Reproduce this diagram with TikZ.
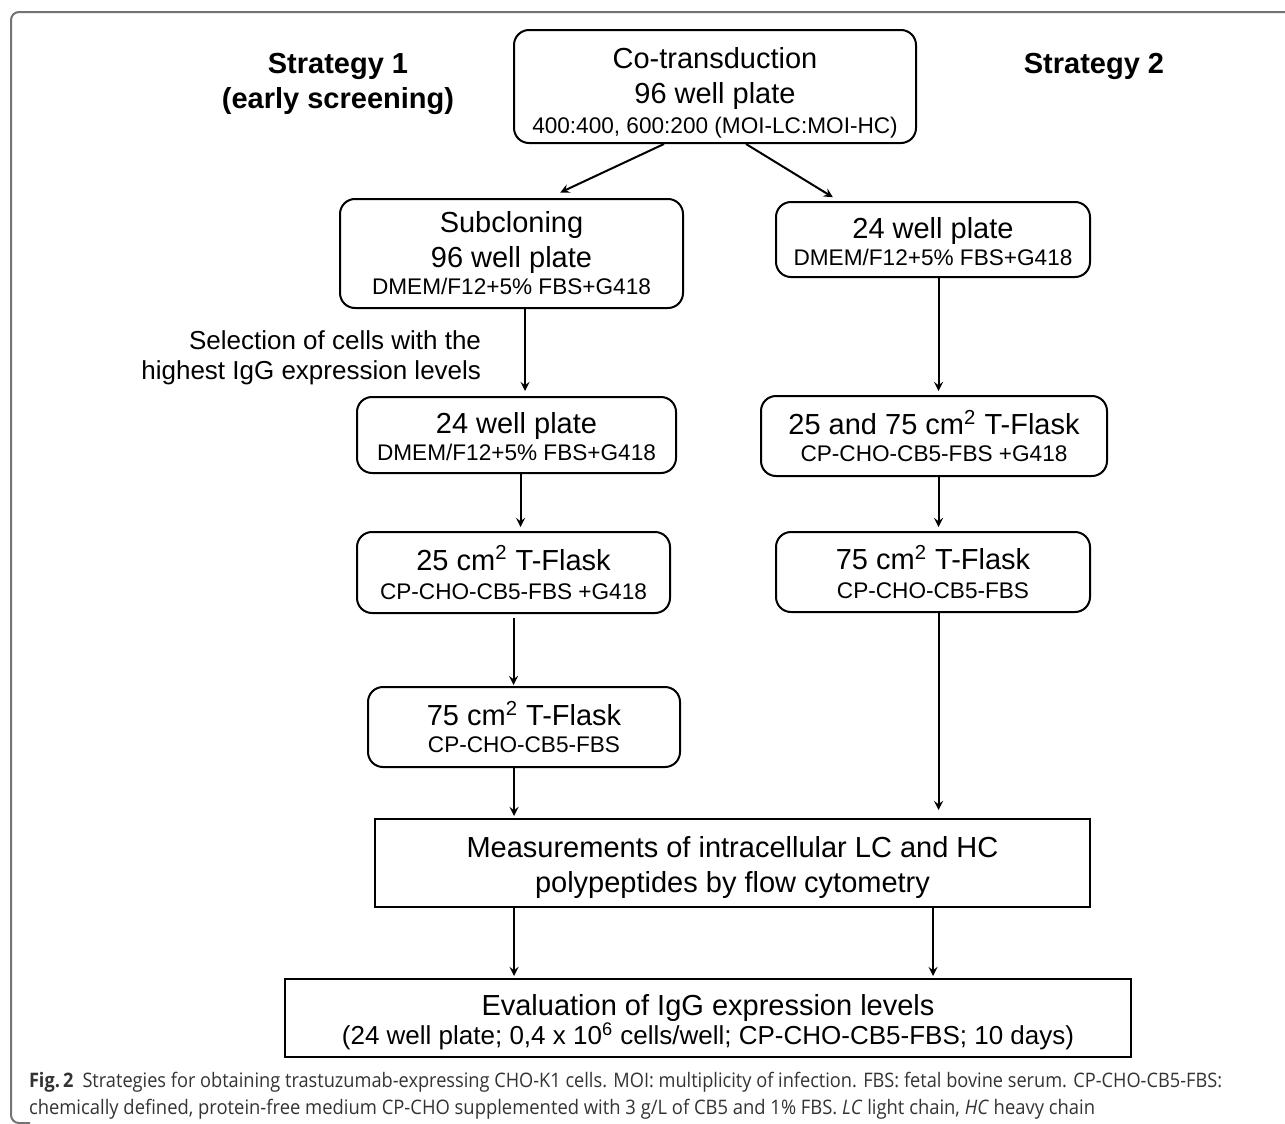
\documentclass[tikz,border=0pt]{standalone}
\usepackage{fontspec}
\setmainfont{Liberation Sans}
\newfontfamily\capfont{Open Sans}
\usepackage{tikz}
\usetikzlibrary{calc,arrows,positioning}

\newcommand{\mainsize}{\fontsize{14.5}{17.5}\selectfont}
\newcommand{\subsize}{\fontsize{11.3}{16.25}\selectfont}
\newcommand{\selsize}{\fontsize{13}{15}\selectfont}
\newcommand{\toppad}[1]{\rule{0pt}{#1}}

\begin{document}
\begin{tikzpicture}[x=0.5pt, y=-0.5pt,
       >=stealth, line width=1pt, text=black,
       every node/.style={font=\mainsize},
       link/.style={->, shorten >=#1},
       link/.default=2pt,
       roundbox/.style 2 args={draw, rounded corners=7.5pt, align=center,
                               inner sep=0pt, minimum width=#1, minimum height=#2},
       flatbox/.style 2 args={draw, align=center, inner sep=0pt,
                              minimum width=#1, minimum height=#2}]

	\useasboundingbox (0,0) rectangle (1285,1124);

	%% Outer frame of the figure
	\draw[black!55, rounded corners=4pt] (1285,12) -- (11,12) -- (11,1123) -- (30,1123);

	%% Headings of the two strategies
	\node[font=\mainsize\bfseries, align=center] (strat1) at (338,84) {Strategy 1\\(early screening)};
	\node[font=\mainsize\bfseries] (strat2) at (1094,66) {Strategy 2};

	%% Steps
	\node[roundbox={201pt}{56.5pt}] (cotrans) at (715,86.5)
		{\toppad{16.5pt}Co-transduction\\96 well plate\\[-2.5pt]{\subsize 400:400, 600:200 (MOI-LC:MOI-HC)}};
	\node[roundbox={171.5pt}{54.5pt}] (subclone) at (511.5,253.5)
		{Subcloning\\96 well plate\\[-4pt]{\subsize DMEM/F12+5\% FBS+G418}};
	\node[roundbox={157pt}{37.5pt}] (wellR) at (933,239.5)
		{\toppad{12.5pt}24 well plate\\[-4pt]{\subsize DMEM/F12+5\% FBS+G418}};
	\node[roundbox={159.5pt}{38pt}] (wellL) at (516.5,435)
		{\toppad{12.5pt}24 well plate\\[-4pt]{\subsize DMEM/F12+5\% FBS+G418}};
	\node[roundbox={173pt}{40pt}] (flaskRa) at (934,436)
		{\toppad{12.5pt}25 and 75 cm\textsuperscript{2} T-Flask\\[-4pt]{\subsize CP-CHO-CB5-FBS +G418}};
	\node[roundbox={156.5pt}{40.5pt}] (flaskLa) at (513.5,572.5)
		{25 cm\textsuperscript{2} T-Flask\\[-3pt]{\subsize CP-CHO-CB5-FBS +G418}};
	\node[roundbox={157pt}{40pt}] (flaskRb) at (933,572)
		{75 cm\textsuperscript{2} T-Flask\\[-3pt]{\subsize CP-CHO-CB5-FBS}};
	\node[roundbox={156pt}{40pt}] (flaskLb) at (524,727)
		{75 cm\textsuperscript{2} T-Flask\\[-4pt]{\subsize CP-CHO-CB5-FBS}};
	\node[flatbox={357.5pt}{44pt}] (measure) at (732.5,863)
		{\toppad{14.5pt}Measurements of intracellular LC and HC\\polypeptides by flow cytometry};
	\node[flatbox={423pt}{39pt}] (evaluate) at (708,1018)
		{\toppad{14.5pt}Evaluation of IgG expression levels\\[-3pt]{\selsize (24 well plate; 0,4 x 10\textsuperscript{6} cells/well; CP-CHO-CB5-FBS; 10 days)}};

	\node[font=\selsize, align=right, anchor=east, inner sep=0pt] (select) at (482,358)
		{Selection of cells with the\\highest IgG expression levels};

	%% Connections
	\draw[link=6.5pt] ([xshift=-25.5pt]cotrans.south) -- ([xshift=18.5pt]subclone.north);
	\draw[link=3.6pt] ([xshift=15.5pt]cotrans.south) -- ([xshift=-47pt]wellR.north);
	\draw[link=2.5pt] ([xshift=6.75pt]subclone.south) -- ([xshift=6.75pt]subclone.south |- wellL.north);
	\draw[link] ([xshift=2.75pt]wellR.south) -- ([xshift=2.75pt]wellR.south |- flaskRa.north);
	\draw[link] ([xshift=2pt]wellL.south) -- ([xshift=2pt]wellL.south |- flaskLa.north);
	\draw[link] ([xshift=2.25pt]flaskRa.south) -- ([xshift=2.25pt]flaskRa.south |- flaskRb.north);
	\draw[link=0.5pt] ([yshift=-2pt]flaskLa.south) -- (flaskLa.south |- flaskLb.north);
	\draw[link=1pt] ([xshift=-5pt]flaskLb.south) -- ([xshift=-5pt]flaskLb.south |- measure.north);
	\draw[link=4pt] ([xshift=2.75pt]flaskRb.south) -- ([xshift=2.75pt]flaskRb.south |- measure.north);
	\draw[link=1pt] ([xshift=-109.25pt]measure.south) -- ([xshift=-109.25pt]measure.south |- evaluate.north);
	\draw[link=1pt] ([xshift=100.25pt]measure.south) -- ([xshift=100.25pt]measure.south |- evaluate.north);

	%% Caption
	\node[anchor=base west, inner sep=0pt, text=black!80,
	      font=\capfont\fontsize{10}{12}\selectfont] (capA) at (28,1087)
		{\resizebox{596.5pt}{\height}{\textbf{Fig.\,2}\enspace Strategies for obtaining trastuzumab-expressing CHO-K1 cells. MOI: multiplicity of infection. FBS: fetal bovine serum. CP-CHO-CB5-FBS:}};
	\node[anchor=base west, inner sep=0pt, text=black!80,
	      font=\capfont\fontsize{10}{12}\selectfont] (capB) at (28,1114)
		{\resizebox{533pt}{\height}{chemically defined, protein-free medium CP-CHO supplemented with 3 g/L of CB5 and 1\% FBS. \textit{LC} light chain, \textit{HC} heavy chain}};
\end{tikzpicture}
\end{document}
